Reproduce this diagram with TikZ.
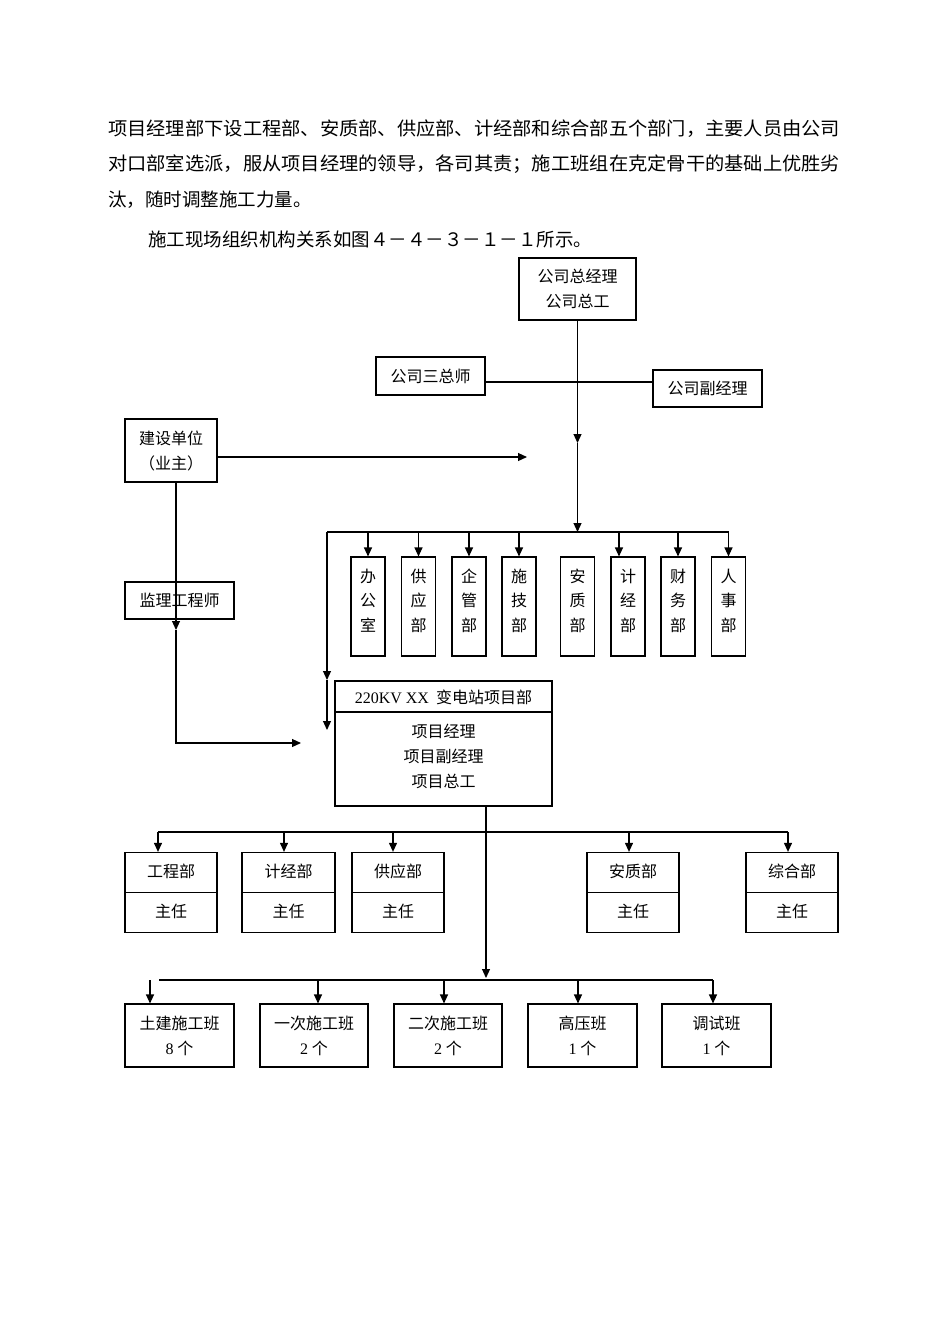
\documentclass[tikz,border=0pt]{standalone}
\usepackage{fontspec}
\usepackage{graphicx}
\setmainfont{Liberation Serif}
\newfontfamily\cjk{Noto Sans CJK SC}
\usetikzlibrary{arrows.meta, positioning, calc, shapes.multipart}
\newcommand\zstrut{\rule[-4pt]{0pt}{16pt}}
\newcommand\fullline[1]{\resizebox{732pt}{\height}{#1}}
\newcommand\vlabel[3]{\raisebox{6pt}[\height][\depth]{\parbox[c]{16pt}{\centering #1\\#2\\#3}}}
\tikzset{
    box/.style={rectangle, draw, line width=1.1pt, inner sep=0pt, align=center, font=\cjk\fontsize{16}{25}\selectfont},
    deptbox/.style={box, minimum width=34pt, minimum height=99pt, font=\cjk\fontsize{16}{24.5}\selectfont},
    splitbox/.style={box, rectangle split, rectangle split parts=2, inner ysep=10.75pt, minimum width=92pt},
    teambox/.style={box, minimum width=109pt, minimum height=63pt},
    plain/.style={inner sep=0pt, align=center, font=\cjk\fontsize{16}{25}\selectfont},
    para/.style={anchor=base west, inner sep=0pt, font=\cjk\fontsize{18.5}{35.5}\selectfont},
    arrow/.style={line width=1.1pt, -{Triangle[length=9pt,width=8pt]}},
    link/.style={line width=1.1pt}
}
\begin{document}
\begin{tikzpicture}[x=1pt, y=-1pt]
    \useasboundingbox (0,0) rectangle (950,1344);

    % Text above
    \node[para] (line1) at (108,135) {\fullline{项目经理部下设工程部、安质部、供应部、计经部和综合部五个部门，主要人员由公司}};
    \node[para] (line2) at (108,170.5) {\fullline{对口部室选派，服从项目经理的领导，各司其责；施工班组在克定骨干的基础上优胜劣}};
    \node[para] (line3) at (108,206) {汰，随时调整施工力量。};
    \node[para] (caption) at (148,246) {施工现场组织机构关系如图４－４－３－１－１所示。};

    % Company
    \node[box, minimum width=117pt, minimum height=62pt] (gm) at (577.5,289) {公司总经理\\公司总工};
    \node[box, minimum width=109pt, minimum height=38pt] (sz) at (430.5,376) {公司三总师};
    \node[box, minimum width=109pt, minimum height=37pt] (fjl) at (707.5,388.5) {公司副经理};
    \node[box, minimum width=92pt, minimum height=63pt] (owner) at (171,450.5) {建设单位\\（业主）};
    \node[box, minimum width=109pt, minimum height=37pt] (jl) at (179.5,600.5) {监理工程师};

    % Company departments
    \node[deptbox] (d1) at (368,606.5) {\vlabel{办}{公}{室}};
    \node[deptbox] (d2) at (418.5,606.5) {\vlabel{供}{应}{部}};
    \node[deptbox] (d3) at (469,606.5) {\vlabel{企}{管}{部}};
    \node[deptbox] (d4) at (519,606.5) {\vlabel{施}{技}{部}};
    \node[deptbox] (d5) at (577.5,606.5) {\vlabel{安}{质}{部}};
    \node[deptbox] (d6) at (628,606.5) {\vlabel{计}{经}{部}};
    \node[deptbox] (d7) at (678,606.5) {\vlabel{财}{务}{部}};
    \node[deptbox] (d8) at (728.5,606.5) {\vlabel{人}{事}{部}};

    % Project department
    \node[box, minimum width=217pt, minimum height=125pt] (proj) at (443.5,743.5) {};
    \node[plain] (projt) at (443.5,697) {{\rmfamily 220KV XX}\ \ 变电站项目部};
    \node[plain] (projb) at (443.5,756) {项目经理\\项目副经理\\项目总工};
    \draw[link] (proj.west |- 0,712) -- (proj.east |- 0,712);

    % Project sections
    \node[splitbox] (m1) at (171,892.5) {\zstrut 工程部\nodepart{two}\zstrut 主任};
    \node[splitbox, minimum width=93pt] (m2) at (288.5,892.5) {\zstrut 计经部\nodepart{two}\zstrut 主任};
    \node[splitbox] (m3) at (398,892.5) {\zstrut 供应部\nodepart{two}\zstrut 主任};
    \node[splitbox] (m4) at (633,892.5) {\zstrut 安质部\nodepart{two}\zstrut 主任};
    \node[splitbox] (m5) at (792,892.5) {\zstrut 综合部\nodepart{two}\zstrut 主任};

    % Work teams
    \node[teambox] (t1) at (179.5,1035.5) {土建施工班\\{\rmfamily 8} 个};
    \node[teambox, minimum width=108pt] (t2) at (314,1035.5) {一次施工班\\{\rmfamily 2} 个};
    \node[teambox, minimum width=108pt] (t3) at (448,1035.5) {二次施工班\\{\rmfamily 2} 个};
    \node[teambox] (t4) at (582.5,1035.5) {高压班\\{\rmfamily 1} 个};
    \node[teambox] (t5) at (716.5,1035.5) {调试班\\{\rmfamily 1} 个};

    % Coordinates
    \coordinate (a1) at (577.5,443);
    \coordinate (bus1) at (577.5,532);
    \coordinate (bus1l) at (327,532);
    \coordinate (bus1r) at (728.5,532);
    \coordinate (l1) at (327,680);
    \coordinate (l2) at (327,730);
    \coordinate (s1) at (485,382);
    \coordinate (o1) at (527,457);
    \coordinate (o2) at (176,630);
    \coordinate (o3) at (176,743);
    \coordinate (o4) at (301,743);
    \coordinate (d6in) at ($(d6.north)+(-9,0)$);
    \coordinate (p1) at (486,978);

    % Arrows, company
    \draw[link] (sz.east |- s1) -- (fjl.west |- s1);
    \draw[arrow] (gm.south -| a1) -- (a1);
    \draw[arrow] (a1) -- (bus1);
    \draw[link] (bus1l) -- (bus1r);
    \foreach \d in {d1, d2, d3, d4, d7, d8}
        \draw[arrow] (\d.north |- bus1) -- (\d.north);
    \draw[arrow] (d6in |- bus1) -- (d6in);
    \draw[arrow] (bus1l) -- (l1);
    \draw[arrow] (l1) -- (l2);

    % Arrows, owner
    \draw[arrow] (owner.east |- o1) -- (o1);
    \draw[arrow] (owner.south -| o2) -- (o2);
    \draw[arrow] (o2) -- (o3) -- (o4);

    % Arrows, project
    \draw[arrow] (proj.south -| p1) -- (p1);
    \draw[link] (158,832) -- (788,832);
    \foreach \x/\n in {158/m1, 284/m2, 393/m3, 629/m4, 788/m5}
        \draw[arrow] (\x,832) -- (\x,0 |- \n.north);
    \draw[link] (159,980) -- (713,980);
    \draw[arrow] (150,980) -- (150,0 |- t1.north);
    \foreach \x/\n in {318/t2, 444/t3, 578/t4, 713/t5}
        \draw[arrow] (\x,980) -- (\x,0 |- \n.north);

\end{tikzpicture}
\end{document}
